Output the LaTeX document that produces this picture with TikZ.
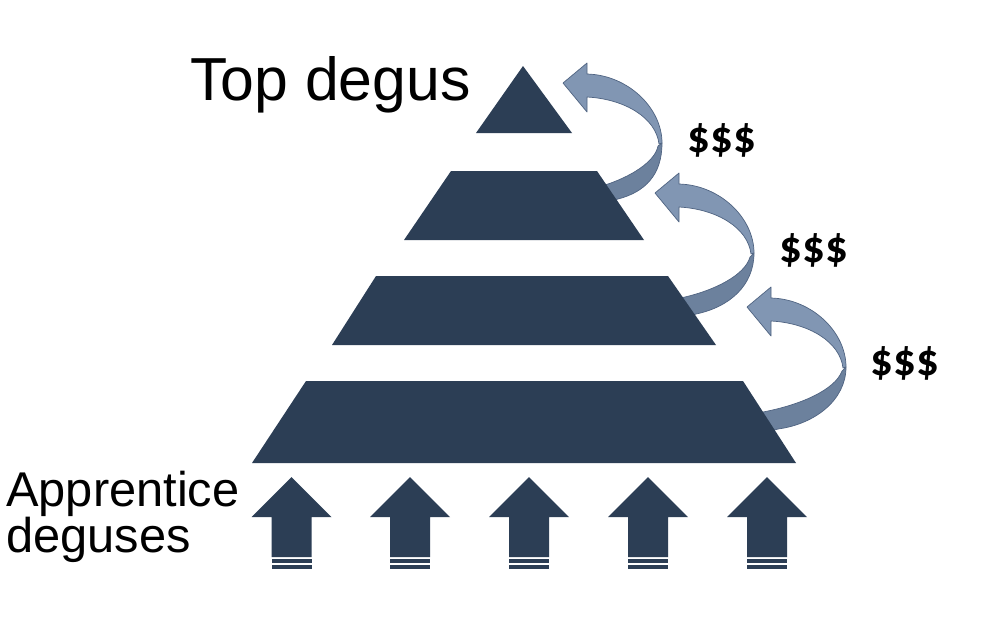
\documentclass[tikz,border=0pt]{standalone}
\usepackage{fontspec}
\setmainfont{Liberation Sans}
\newfontfamily\dollarfont{Carlito}
\definecolor{navy}{RGB}{44,62,85}
\definecolor{bandlight}{RGB}{129,150,179}
\definecolor{banddark}{RGB}{108,129,157}
\definecolor{bandline}{RGB}{80,100,130}
\tikzset{
  tier/.style={fill=navy, draw=none},
  upperband/.style={fill=bandlight, draw=bandline, line width=0.5pt, line join=round},
  lowerband/.style={fill=banddark, draw=bandline, line width=0.5pt, line join=round},
  bigtext/.style={inner sep=0pt, anchor=base west, font=\fontsize{43.2}{50}\selectfont},
  smalltext/.style={inner sep=0pt, anchor=base west, font=\fontsize{34.7}{38}\selectfont},
  money/.style={inner sep=0pt, font=\dollarfont\bfseries\fontsize{32}{36}\selectfont},
  stripe/.style={fill=navy, draw=none}
}
\begin{document}
\begin{tikzpicture}[x=0.025cm, y=-0.025cm]
\useasboundingbox (0,0) rectangle (992,627);
\fill[white] (0,0) rectangle (992,627);

% lower (back) bands of the curved arrows
\draw[lowerband] (662,143) .. controls (662,175) and (645,192) .. (618,199)
  -- (598,206) -- (590,190) -- (605,185)
  .. controls (630,177) and (655,162) .. (658,146) -- cycle;
\draw[lowerband] (754,253) .. controls (754,285) and (730,307) .. (696,314)
  -- (680,320) -- (672,300) -- (685,297)
  .. controls (715,290) and (745,275) .. (750,257) -- cycle;
\draw[lowerband] (846,367) .. controls (846,400) and (815,424) .. (778,429)
  -- (760,434) -- (755,414) -- (763,412)
  .. controls (800,405) and (835,390) .. (842,371) -- cycle;

% upper (front) bands with heads
\foreach \tx/\ty in {563/83, 655/193, 747/307}{
  \begin{scope}[shift={(\tx,\ty)}]
    \draw[upperband] (0,0) -- (24,-20) -- (24,-9)
      .. controls (65,-8) and (99,25) .. (99,60) -- (96,61)
      .. controls (93,35) and (62,16) .. (24,14) -- (24,29) -- cycle;
  \end{scope}
}

% pyramid tiers
\fill[tier] (523,66) -- (572,133) -- (476,133) -- cycle;
\fill[tier] (451,171) -- (597,171) -- (644,240) -- (404,240) -- cycle;
\fill[tier] (376,276) -- (668,276) -- (716,345) -- (332,345) -- cycle;
\fill[tier] (306,381) -- (743,381) -- (796,463) -- (252,463) -- cycle;

% up arrows
\foreach \cx in {291.5, 410, 529, 648, 767}{
  \fill[navy] (\cx,477) -- (\cx+40,517) -- (\cx+20,517) -- (\cx+20,557)
    -- (\cx-20,557) -- (\cx-20,517) -- (\cx-40,517) -- cycle;
  \fill[stripe] (\cx-20,558.5) rectangle (\cx+20,563.3);
  \fill[stripe] (\cx-20,565) rectangle (\cx+20,569);
}

% texts
\node[bigtext] (top) at (190,100) {Top degus};
\node[smalltext] (app1) at (6,506) {Apprentice};
\node[smalltext] (app2) at (6,552) {deguses};
\node[money] (m1) at (722,140) {\$\$\$};
\node[money] (m2) at (814,250) {\$\$\$};
\node[money] (m3) at (905,363) {\$\$\$};
\end{tikzpicture}
\end{document}
